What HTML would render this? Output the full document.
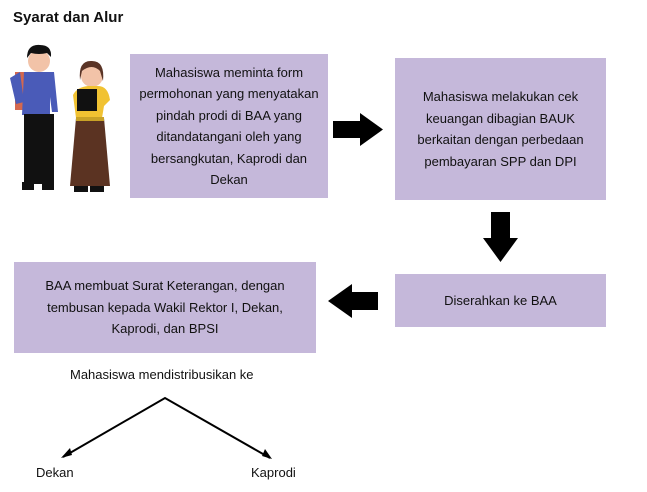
<!DOCTYPE html>
<html><head><style>
body{margin:0;width:647px;height:492px;background:#fff;position:relative;font-family:"Liberation Sans",sans-serif;overflow:hidden}
.b{position:absolute;background:#c5b8da;display:flex;align-items:center;justify-content:center;text-align:center;font-size:13px;line-height:21.5px;color:#111}
.t{position:absolute;font-size:13px;color:#111}
</style></head><body>
<div class="t" style="left:13px;top:9px;font-size:15px;font-weight:bold">Syarat dan Alur</div>
<div class="b" style="left:130px;top:54px;width:198px;height:144px">Mahasiswa meminta form<br>permohonan yang menyatakan<br>pindah prodi di BAA yang<br>ditandatangani oleh yang<br>bersangkutan, Kaprodi dan<br>Dekan</div>
<div class="b" style="left:395px;top:58px;width:211px;height:142px">Mahasiswa melakukan cek<br>keuangan dibagian BAUK<br>berkaitan dengan perbedaan<br>pembayaran SPP dan DPI</div>
<div class="b" style="left:395px;top:274px;width:211px;height:53px">Diserahkan ke BAA</div>
<div class="b" style="left:14px;top:262px;width:302px;height:91px">BAA membuat Surat Keterangan, dengan<br>tembusan kepada Wakil Rektor I, Dekan,<br>Kaprodi, dan BPSI</div>
<div class="t" style="left:70px;top:367px">Mahasiswa mendistribusikan ke</div>
<div class="t" style="left:36px;top:465px">Dekan</div>
<div class="t" style="left:251px;top:465px">Kaprodi</div>
<svg width="647" height="492" style="position:absolute;left:0;top:0">
<polygon points="333,121 360,121 360,113 383,129.5 360,146 360,138 333,138" fill="#000"/>
<polygon points="491,212 510,212 510,238 518,238 500.5,262 483,238 491,238" fill="#000"/>
<polygon points="378,292 352,292 352,284 328,301 352,318 352,310 378,310" fill="#000"/>
<polyline points="63,457 165,398 270,458" fill="none" stroke="#000" stroke-width="2"/>
<polygon points="61,458 70,448 72,455" fill="#000"/>
<polygon points="272,459 262,456 265,449" fill="#000"/>
<!-- boy -->
<circle cx="39" cy="61" r="11" fill="#f2c3a8"/>
<path d="M27 58 q0 -14 13 -13 q12 0 11 12 l-4 -4 q-8 2 -16 0z" fill="#111"/>
<rect x="15" y="72" width="12" height="38" fill="#d4684f"/>
<path d="M24 72 h30 l4 40 h-6 l-2 -15 v18 h-28z" fill="#4a5bb8"/>
<path d="M10 78 l10 -6 l4 30 l-8 2z" fill="#4a5bb8"/>
<rect x="24" y="114" width="30" height="70" fill="#111"/>
<rect x="22" y="182" width="12" height="8" fill="#111"/>
<rect x="42" y="182" width="12" height="8" fill="#111"/>
<!-- girl -->
<circle cx="92" cy="76" r="11" fill="#f2c3a8"/>
<path d="M80 80 q-2 -20 12 -19 q13 0 11 20 l-3 -10 q-8 -8 -18 0z" fill="#5a3426"/>
<path d="M73 95 q4 -8 15 -9 h10 q10 0 12 14 l-6 6 l-2 12 h-26z" fill="#f1c232"/>
<rect x="77" y="89" width="20" height="22" fill="#111"/>
<path d="M76 118 h28 l6 68 h-40z" fill="#5b3322"/>
<rect x="76" y="117" width="28" height="4" fill="#c9a227"/>
<rect x="74" y="186" width="14" height="6" fill="#111"/>
<rect x="90" y="186" width="14" height="6" fill="#111"/>
</svg>
</body></html>
